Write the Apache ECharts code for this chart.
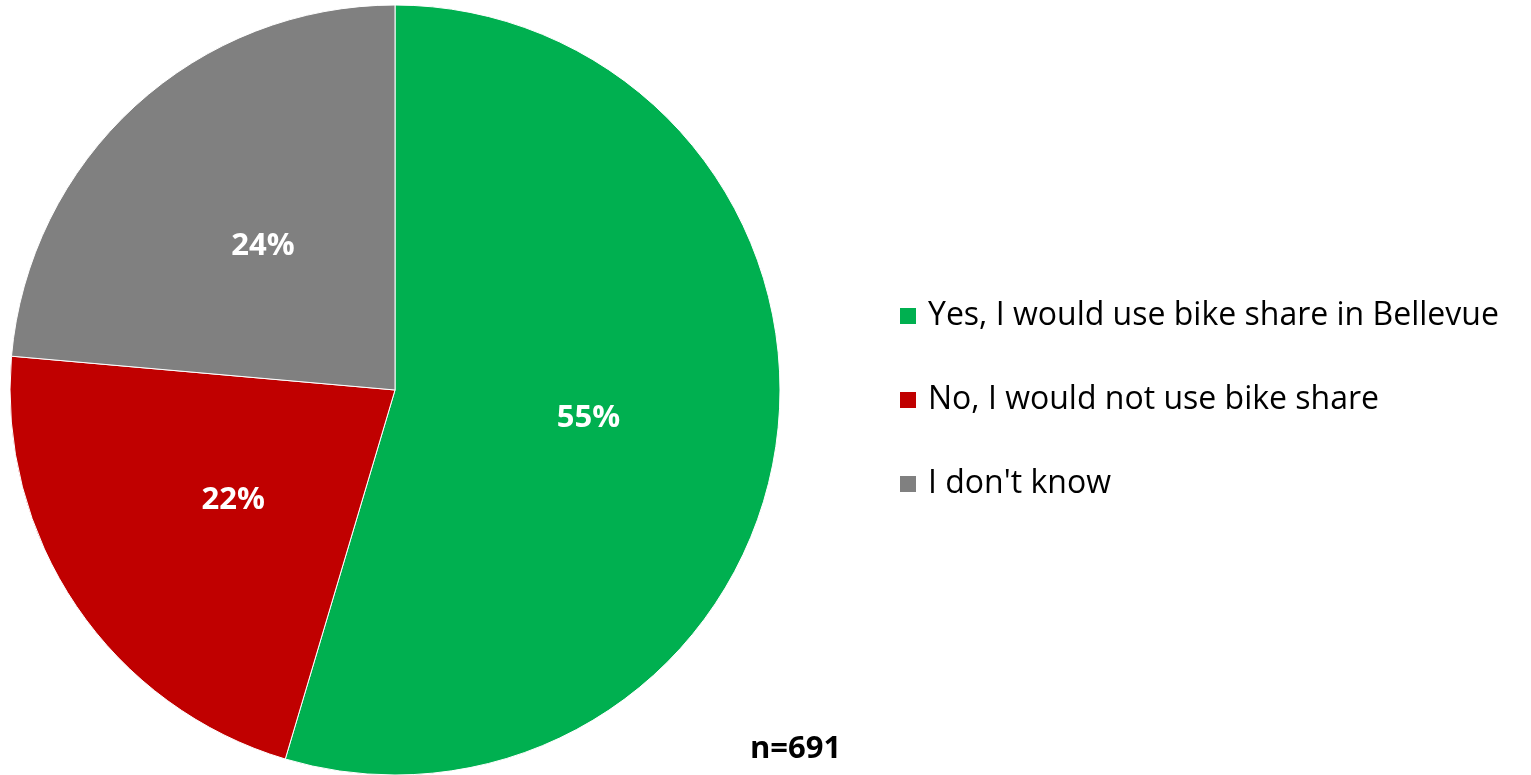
<!DOCTYPE html>
<html><head><meta charset="utf-8">
<script src="https://cdn.jsdelivr.net/npm/echarts@6/dist/echarts.min.js"></script>
<style>html,body{margin:0;padding:0;background:#fff}#c{width:1531px;height:775px}</style>
</head><body><div id="c"></div>
<script>
const categories = ["Yes, I would use bike share in Bellevue", "No, I would not use bike share", "I don't know"];
const values = [54.6, 21.8, 23.6];
const colors = ["#00B050", "#C00000", "#808080"];
const note = "n=691";

const chart = echarts.init(document.getElementById('c'), null, {renderer: 'canvas'});
chart.setOption({
  animation: false,
  backgroundColor: '#fff',
  legend: {
    orient: 'vertical',
    left: 893,
    top: 295,
    itemWidth: 18,
    itemHeight: 18,
    itemGap: 52,
    icon: 'rect',
    textStyle: {fontFamily: 'Open Sans', fontSize: 32, lineHeight: 32, color: '#000', padding: [0, 0, 0, 6]},
    data: categories
  },
  graphic: [{
    type: 'text', left: 750, top: 734,
    style: {text: note, font: 'bold 31px "Open Sans"', fill: '#000'}
  }],
  series: [{
    type: 'pie',
    center: [395, 390],
    radius: [0, 385],
    startAngle: 90,
    clockwise: true,
    itemStyle: {borderColor: '#fff', borderWidth: 1},
    label: {
      position: 'inner',
      formatter: p => Math.round(p.value) + '%',
      color: '#fff', fontFamily: 'Open Sans', fontWeight: 'bold', fontSize: 31
    },
    labelLine: {show: false},
    emphasis: {disabled: true},
    data: categories.map((c, i) => ({name: c, value: values[i], itemStyle: {color: colors[i]}}))
  }]
});
</script></body></html>
